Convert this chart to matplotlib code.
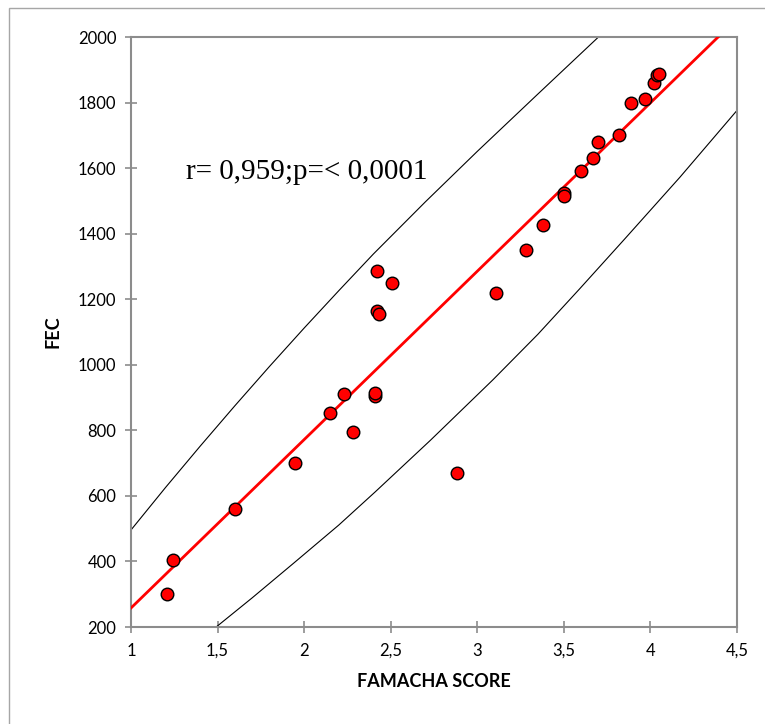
import matplotlib
matplotlib.use("Agg")
import matplotlib.pyplot as plt
from matplotlib.patches import Rectangle
from matplotlib.ticker import FixedLocator, FuncFormatter

# Data
famacha = [1.21, 1.24, 1.60, 1.95, 2.15, 2.23, 2.28, 2.41, 2.41, 2.42, 2.42, 2.43,
           2.51, 2.88, 3.11, 3.28, 3.38, 3.50, 3.50, 3.60, 3.67, 3.70, 3.82, 3.89,
           3.97, 4.02, 4.04, 4.05]
fec = [300, 405, 560, 700, 852, 912, 795, 905, 915, 1285, 1165, 1155,
       1250, 670, 1220, 1350, 1425, 1525, 1515, 1590, 1630, 1680, 1700, 1800,
       1812, 1860, 1885, 1888]

# regression line
fit_x = [1.0, 4.5]
fit_y = [258, 2056]

# upper and lower band curves
upper_x = [1.0, 1.2, 1.4, 1.6, 1.8, 2.0, 2.2, 2.4, 2.7, 3.0, 3.35, 3.70]
upper_y = [496, 626, 752, 875, 995, 1112, 1226, 1338, 1497, 1651, 1826, 2000]
lower_x = [1.485, 1.7, 1.94, 2.2, 2.41, 2.73, 3.09, 3.35, 3.59, 3.85, 4.17, 4.50]
lower_y = [197, 289, 395, 511, 612, 770, 954, 1093, 1231, 1383, 1572, 1776]

xticks = [1, 1.5, 2, 2.5, 3, 3.5, 4, 4.5]
yticks = [200, 400, 600, 800, 1000, 1200, 1400, 1600, 1800, 2000]

W, H = 765, 724
fig = plt.figure(figsize=(W / 100, H / 100), dpi=100)
fig.patches.append(Rectangle((9 / W, -0.05), 1.1, 1 - 8 / H + 0.05,
                             transform=fig.transFigure, fill=False,
                             edgecolor="#a6a6a6", linewidth=1.0))
ax = fig.add_axes([131 / W, (H - 627) / H, 606 / W, 590 / H])

ax.plot(upper_x, upper_y, color="black", lw=0.8, zorder=2)
ax.plot(lower_x, lower_y, color="black", lw=0.8, zorder=2)
ax.plot(fit_x, fit_y, color="#ff0000", lw=2.0, zorder=3)
ax.scatter(famacha, fec, s=82, facecolor="#ff0000", edgecolor="black",
           linewidth=1.0, zorder=4)

ax.set_xlim(1, 4.5)
ax.set_ylim(200, 2000)
ax.xaxis.set_major_locator(FixedLocator(xticks))
ax.yaxis.set_major_locator(FixedLocator(yticks))
ax.xaxis.set_major_formatter(FuncFormatter(lambda v, p: ("%g" % v).replace(".", ",")))
ax.yaxis.set_major_formatter(FuncFormatter(lambda v, p: "%d" % v))

for s in ax.spines.values():
    s.set_color("#8c8c8c")
    s.set_linewidth(1.5)
ax.tick_params(axis="both", direction="inout", length=9, width=1.2,
               color="#8c8c8c", labelsize=12, labelcolor="black")
ax.tick_params(axis="x", pad=7)
ax.tick_params(axis="y", pad=6)
for lab in ax.get_xticklabels() + ax.get_yticklabels():
    lab.set_family("Lato")

ax.set_xlabel("FAMACHA SCORE", family="Lato", fontweight="bold", fontsize=13,
              labelpad=10)
ax.set_ylabel("FEC", family="Lato", fontweight="bold", fontsize=13, labelpad=12)

ax.text(1.318, 1567, "r= 0,959;p=< 0,0001", family="Liberation Serif",
        fontsize=21, va="baseline", ha="left")

fig.savefig("out.png", dpi=100)
